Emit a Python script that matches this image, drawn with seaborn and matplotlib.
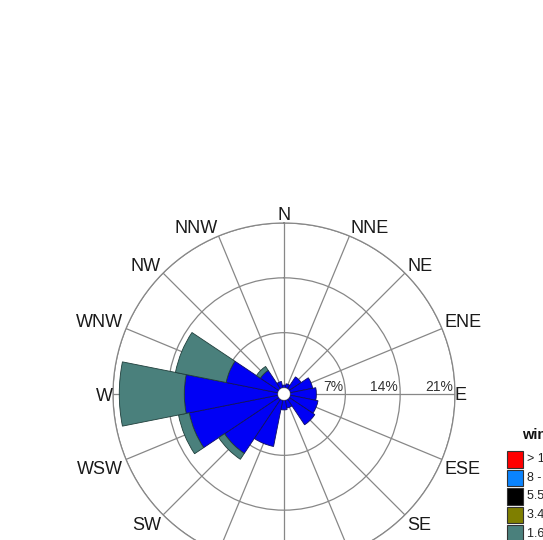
import numpy as np
import matplotlib
matplotlib.use("Agg")
import matplotlib.pyplot as plt
from matplotlib.patches import Rectangle
from matplotlib.transforms import offset_copy
import seaborn as sns

# Sixteen compass sectors, clockwise from north
directions = ["N", "NNE", "NE", "ENE", "E", "ESE", "SE", "SSE",
              "S", "SSW", "SW", "WSW", "W", "WNW", "NW", "NNW"]

# Frequency (%) per sector for each wind-speed class (m/s)
freq_0p5_1p6 = [0.3, 0.5, 1.8, 2.9, 3.3, 3.6, 3.9, 1.0,
                1.2, 6.0, 8.3, 11.5, 11.9, 6.7, 2.8, 0.8]
freq_1p6_3p4 = [0.0, 0.0, 0.0, 0.0, 0.0, 0.0, 0.0, 0.0,
                0.0, 0.0, 0.9, 1.4, 8.3, 6.6, 0.6, 0.0]

ring_values = [7, 14, 21]
ring_labels = ["7%", "14%", "21%"]

legend_title = "wind speed (m/s)"
class_labels = ["> 10.8", "8 - 10.8", "5.5 - 8", "3.4 - 5.5", "1.6 - 3.4", "0.5 - 1.6"]
class_colors = ["#FF0000", "#0A84FF", "#000000", "#7F7F00", "#4A807C", "#0000F5"]

sns.set_style("white")
plt.rcParams["font.family"] = ["Liberation Sans", "DejaVu Sans"]

W, H = 543, 540
fig = plt.figure(figsize=(W / 100, H / 100), dpi=100)
fig.patch.set_facecolor("white")

# polar frame: centre and outer radius in pixels
cx, cy, R = 284, 394, 171
ax = fig.add_axes([(cx - R) / W, (H - cy - R) / H, 2 * R / W, 2 * R / H],
                  projection="polar")
ax.set_theta_zero_location("N")
ax.set_theta_direction(-1)
ax.set_facecolor("white")

angles_deg = np.arange(len(directions)) * 22.5
theta = np.deg2rad(angles_deg)
width = np.deg2rad(22.5)

low = np.array(freq_0p5_1p6)
mid = np.array(freq_1p6_3p4)

m = low > 0
ax.bar(theta[m], low[m], width=width, bottom=0, color=class_colors[5],
       edgecolor="#101060", linewidth=0.6, zorder=3)
m = mid > 0
ax.bar(theta[m], mid[m], width=width, bottom=low[m], color=class_colors[4],
       edgecolor="#1f3e3b", linewidth=0.6, zorder=3)

ax.set_ylim(0, 21)
ax.set_rorigin(-0.83)
ax.set_yticks(ring_values)
ax.set_yticklabels([])
ax.set_xticks(theta)
ax.set_xticklabels([])
ax.grid(True, color="#878787", linewidth=0.9)
ax.set_axisbelow(True)
for name, sp in ax.spines.items():
    sp.set_color("#878787")
    sp.set_linewidth(0.9)

# compass labels just outside the outer ring (only those that land on the canvas)
for ang, name in zip(angles_deg, directions):
    a = np.deg2rad(90 - ang)
    c, s = np.cos(a), np.sin(a)
    ha = "left" if c > 0.05 else ("right" if c < -0.05 else "center")
    va = "baseline" if s > 0.05 else ("top" if s < -0.05 else "center_baseline")
    r_lab = 21.0 if abs(s) < 0.05 else 21.4
    _, ydisp = ax.transData.transform((np.deg2rad(ang), r_lab))
    if ydisp < 0:
        continue
    ax.text(np.deg2rad(ang), r_lab, name, ha=ha, va=va, fontsize=13,
            color="#1a1a1a", clip_on=False)

# percentage labels along the east spoke
lab_tr = offset_copy(ax.transData, fig=fig, x=-2, y=0, units="dots")
for v, t in zip(ring_values, ring_labels):
    ax.text(np.deg2rad(90), v, t, ha="right", va="bottom", fontsize=10,
            color="#333333", transform=lab_tr, zorder=5)

# legend block on the right
fig.text(522 / W, 1 - 435 / H, legend_title, ha="left", va="center",
         fontsize=10.5, fontweight="bold", color="#111111")
px, pw, step, top0 = 507, 16.5, 18.6, 451
for i, (lab, col) in enumerate(zip(class_labels, class_colors)):
    top = top0 + i * step
    fig.add_artist(Rectangle((px / W, 1 - (top + pw) / H), pw / W, pw / H,
                             transform=fig.transFigure, facecolor=col,
                             edgecolor="#333333", linewidth=0.8))
    fig.text(527 / W, 1 - (top + pw / 2) / H, lab, ha="left", va="center",
             fontsize=9, color="#222222")

fig.savefig("out.png", dpi=100)
